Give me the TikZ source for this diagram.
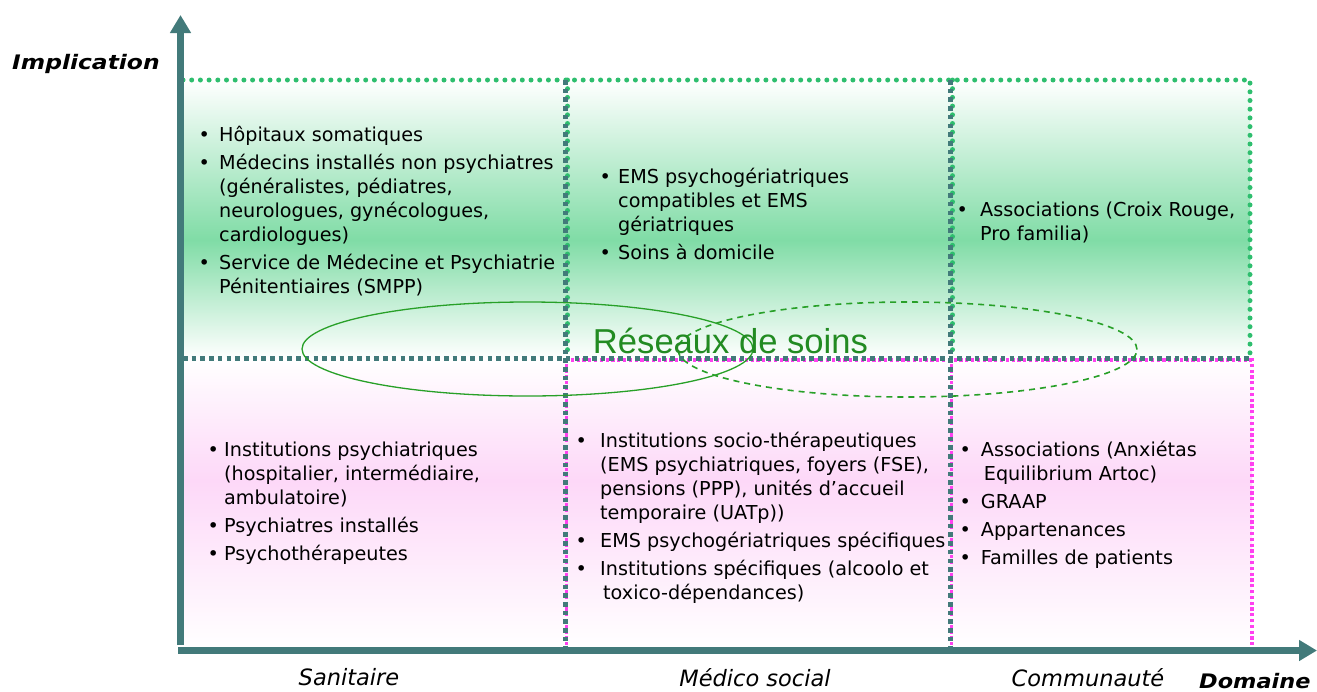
\documentclass[tikz,border=0pt]{standalone}
\usepackage{fontspec}
\setmainfont{DejaVu Sans}
\newfontfamily\arialf{Liberation Sans}
\usepackage{graphicx}
\usetikzlibrary{arrows.meta}
\definecolor{axisteal}{RGB}{66,122,122}
\definecolor{dotgreen}{RGB}{46,190,110}
\definecolor{mag}{RGB}{255,64,240}
\definecolor{elgreen}{RGB}{40,160,40}
\definecolor{txtgreen}{RGB}{34,139,34}
\definecolor{cellgreen}{RGB}{128,220,166}
\definecolor{cellpink}{RGB}{253,216,248}
\newlength\ind
\newcommand\bul[1]{\hbox{\makebox[\ind][l]{•}#1}}
\newcommand\cont[2][0pt]{\hbox{\hspace*{\ind}\hspace*{#1}#2}}
\newcommand\gap{\vskip4pt}
\tikzset{
  axisline/.style={draw=axisteal, line width=6.5pt, -{Triangle[length=18pt,width=20pt]}},
  greendot/.style={draw=dotgreen, line width=5pt, line cap=round, dash pattern=on 0pt off 8.7pt},
  magdot/.style={draw=mag, line width=3.5pt, dash pattern=on 3.2pt off 2.6pt},
  tealdash/.style={draw=axisteal, line width=5pt, dash pattern=on 4.6pt off 4.1pt},
  cell/.style={anchor=base west, inner sep=0pt, font=\fontsize{19.2pt}{24pt}\selectfont, text=black},
  axlabel/.style={anchor=base, inner sep=0pt, font=\fontsize{22.5pt}{26pt}\selectfont\itshape},
  axtitle/.style={anchor=base west, inner sep=0pt, font=\fontsize{20pt}{24pt}\selectfont\bfseries\itshape}
}
\begin{document}
\begin{tikzpicture}[x=1pt,y=-1pt]
\useasboundingbox (0,0) rectangle (1317,691);
% backgrounds
\shade[top color=white, bottom color=cellgreen] (183,80) rectangle (1250,240);
\shade[top color=cellgreen, bottom color=white] (183,240) rectangle (1250,358);
\shade[top color=white, bottom color=cellpink] (183,358) rectangle (1252,480);
\shade[top color=cellpink, bottom color=white] (183,480) rectangle (1252,648);
% cell borders
\draw[greendot] (183,80) -- (1250,80) -- (1250,358);
\draw[greendot] (567.5,80) -- (567.5,358);
\draw[greendot] (952.5,80) -- (952.5,358);
\draw[magdot] (565,360) -- (1252,360);
\draw[magdot] (1252,358) -- (1252,648);
\draw[magdot] (566.5,358) -- (566.5,648);
\draw[magdot] (951.5,358) -- (951.5,648);
\draw[tealdash] (565,80) -- (565,648);
\draw[tealdash] (950,80) -- (950,648);
\draw[tealdash] (183,358) -- (1250,358);
% axes
\coordinate (O) at (180.5,650.5);
\coordinate (ytop) at (180.5,15);
\coordinate (ybot) at (180.5,645);
\coordinate (xleft) at (178,650.5);
\coordinate (xend) at (1317,650.5);
\draw[axisline] (ybot) -- (ytop);
\draw[axisline] (xleft) -- (xend);
% cell texts
\node[cell] (tl) at (198.4,141) {\setlength\ind{20.6pt}\vtop{\bul{Hôpitaux somatiques}\gap\bul{Médecins installés non psychiatres}\cont{(généralistes, pédiatres,}\cont{neurologues, gynécologues,}\cont{cardiologues)}\gap\bul{Service de Médecine et Psychiatrie}\cont{Pénitentiaires (SMPP)}}};
\node[cell] (tm) at (599.4,183) {\setlength\ind{18.6pt}\vtop{\bul{EMS psychogériatriques}\cont{compatibles et EMS}\cont{gériatriques}\gap\bul{Soins à domicile}}};
\node[cell] (tr) at (956.4,216) {\setlength\ind{23.6pt}\vtop{\bul{Associations (Croix Rouge,}\cont{Pro familia)}}};
\node[cell] (bl) at (207.4,456.5) {\setlength\ind{16.6pt}\vtop{\bul{Institutions psychiatriques}\cont{(hospitalier, intermédiaire,}\cont{ambulatoire)}\gap\bul{Psychiatres installés}\gap\bul{Psychothérapeutes}}};
\node[cell] (bm) at (575.4,447) {\setlength\ind{24.6pt}\vtop{\bul{Institutions socio-thérapeutiques}\cont{(EMS psychiatriques, foyers (FSE),}\cont{pensions (PPP), unités d’accueil}\cont{temporaire (UATp))}\gap\bul{EMS psychogériatriques spécifiques}\gap\bul{Institutions spécifiques (alcoolo et}\cont[3pt]{toxico-dépendances)}}};
\node[cell] (br) at (959.4,456) {\setlength\ind{21.3pt}\vtop{\bul{Associations (Anxiétas}\cont[3pt]{Equilibrium Artoc)}\gap\bul{GRAAP}\gap\bul{Appartenances}\gap\bul{Familles de patients}}};
% ellipses
\draw[elgreen, line width=1.3pt] (527.5,349) ellipse [x radius=225.5pt, y radius=47pt];
\draw[elgreen, line width=1.6pt, dash pattern=on 6pt off 5pt] (907.5,349.5) ellipse [x radius=229.5pt, y radius=47.5pt];
\node[anchor=base, inner sep=0pt, text=txtgreen, font=\arialf\fontsize{34.6pt}{40pt}\selectfont] (res) at (730.5,353) {Réseaux de soins};
% axis labels
\node[axtitle] (impl) at (12,69) {\scalebox{1.17}[1]{Implication}};
\node[axtitle] (dom) at (1199,688) {\scalebox{1.12}[1]{Domaine}};
\node[axlabel] (san) at (349,685) {Sanitaire};
\node[axlabel] (med) at (755,686) {Médico social};
\node[axlabel] (com) at (1088,686) {Communauté};
\end{tikzpicture}
\end{document}
